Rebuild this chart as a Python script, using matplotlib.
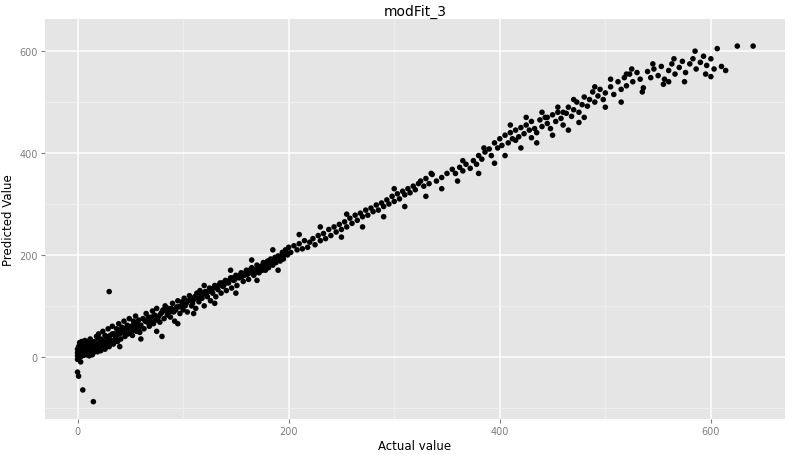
import numpy as np
import matplotlib.pyplot as plt

# (actual, predicted) pairs
low = [(0,2),(0,8),(0,15),(0,-5),(0,-30),(1,-38),(1,20),(2,5),(2,12),(3,25),(3,0),(4,8),(4,18),(5,-65),(5,10),(6,3),(6,22),(7,14),(8,6),(8,28),(9,18),(10,10),(10,30),(11,2),(12,20),(12,35),(13,12),(14,25),(15,-88),(15,8),(16,30),(17,18),(18,40),(19,10),(20,25),(20,45),(21,15),(22,35),(23,22),(24,50),(25,28),(26,15),(27,40),(28,30),(29,55),(30,128),(30,20),(31,42),(32,32),(33,60),(34,25),(35,45),(36,38),(37,55),(38,30),(39,65),(40,45),(41,35),(42,58),(43,48),(44,70),(45,40),(46,55),(47,62),(48,45),(49,75),(50,52),(51,60),(52,42),(53,70),(54,55),(55,80),(56,50),(57,65),(58,72),(59,48),(60,62),
       (1,10),(2,28),(3,-10),(4,30),(6,12),(7,32),(9,4),(11,22),(13,30),(14,4),(16,12),(18,22),(19,38),(21,30),(22,12),(24,32),(26,42),(27,20),(29,35),(31,28),(33,45),(35,30),(37,42),(39,50),(41,52),(44,55),(46,45),(48,60),(51,48),(53,62),(56,62),(58,55),(3,15),(5,22),(8,15),(10,20),(12,8),(15,18)]
mid = [(62,75),(63,55),(65,85),(66,68),(68,60),(70,78),(71,90),(72,65),(74,72),(75,95),(77,80),(78,68),(80,40),(80,88),(82,75),(83,100),(85,82),(86,95),(88,78),(90,105),(91,88),(92,70),(94,98),(95,110),(97,85),(98,100),(100,92),(101,115),(103,105),(104,88),(106,120),(108,100),(110,112),(112,95),(113,125),(115,108),(116,130),(118,115),(120,100),(121,128),(123,118),(125,135),(126,110),(128,125),(130,140),(131,118),(133,132),(135,145),(136,125),(138,138),(140,150),(141,130),(143,145),(145,155),(146,135),(148,150),(150,160),(151,140),(153,155),(155,165),(157,148),(158,160),(160,170),(162,152),(164,165),(165,175),(167,160),(169,172),(170,180),(172,165),(174,178),(176,185),(178,170),(180,188),(181,175),(183,192),(185,180),(187,195),(188,185),(190,198),(192,188),(194,205),(195,192),(197,210),(199,200),(200,215),
       (64,70),(67,78),(69,70),(73,82),(76,75),(79,85),(81,92),(84,90),(87,88),(89,95),(93,92),(96,98),(99,108),(102,100),(105,110),(107,112),(109,105),(111,118),(114,115),(117,122),(119,125),(122,122),(124,128),(127,132),(129,135),(132,138),(134,140),(137,145),(139,142),(142,148),(144,150),(147,155),(149,152),(152,158),(154,160),(156,158),(159,165),(161,162),(163,170),(166,168),(168,165),(171,175),(173,172),(175,170),(177,178),(179,182),(182,185),(184,188),(186,190),(189,192),(191,195),(193,198),(196,200),(198,205)]
high = [(202,205),(205,218),(208,210),(210,222),(213,212),(215,228),(218,215),(220,225),(223,232),(225,220),(228,238),(230,228),(233,242),(235,232),(238,250),(240,238),(243,255),(245,245),(248,260),(250,250),(253,265),(255,255),(258,272),(260,262),(263,278),(265,268),(268,282),(270,275),(273,288),(275,278),(278,292),(280,285),(283,298),(285,288),(288,302),(290,295),(293,308),(295,300),(298,315),(300,305),(303,320),(305,310),(308,325),(310,318),(313,330),(315,322),(318,335),(320,328),(323,340),(325,345),(328,335),(330,350),(333,340),(336,358),(340,345),
        (345,352),(350,360),(355,368),(358,360),(362,372),(365,365),(368,378),(372,370),(375,385),(378,378),(380,395),(383,388),(386,402),(390,408),(392,395),(395,420),(398,410),(400,428),(402,415),(405,435),(408,420),(410,440),(412,428),(415,445),(418,432),(420,450),(423,438),(425,455),(428,445),(430,462),(433,448),(435,440),(438,465),(440,452),(443,470),(445,458),(448,448),(450,475),(453,462),(455,480),(458,468),(460,455),(463,478),(465,490),(468,472),(470,485),(473,500),(475,480),(478,495),(480,510),(483,492),(485,505),(488,520),(490,500),(493,512),(495,525),(498,505),(500,518),
        (505,530),(508,515),(512,540),(515,525),(518,548),(520,532),(523,555),(526,540),(530,558),(533,545),(536,528),(540,560),(543,548),(546,565),(550,552),(553,570),(556,545),(560,562),(563,575),(566,555),(570,568),(573,580),(576,558),(580,575),(583,585),(586,565),(590,578),(593,590),(596,572),(600,585),(603,565),(606,605),(610,570),(614,562),(625,610),(640,610)]
# looser points off the main band
spread = [(40,20),(60,35),(75,50),(95,65),(110,85),(130,105),(150,125),(170,150),(190,170),(120,140),(145,170),(165,190),(185,210),(210,240),(230,255),(250,235),(255,280),(270,255),(290,275),(300,330),(310,295),(330,315),(335,360),(345,330),(360,345),(365,385),(380,360),(385,410),(395,380),(405,395),(410,455),(420,410),(425,470),(435,420),(440,480),(450,435),(455,490),(465,445),(470,505),(480,470),(490,530),(500,490),(505,545),(515,500),(525,565),(535,520),(545,575),(555,535),(565,585),(575,540),(585,600),(595,555),(600,550),(475,460),(445,470),(430,430),(415,425),(460,480),(520,555),(560,540)]

pts = np.array(low + mid + high + spread)
actual = pts[:, 0]
predicted = pts[:, 1]

fig = plt.figure(figsize=(8, 4.56), dpi=100)
ax = fig.add_axes([0.056, 0.079, 0.925, 0.877])
ax.set_facecolor("#e5e5e5")
ax.scatter(actual, predicted, s=16, c="black", edgecolors="none", zorder=3)

ax.set_xlim(-31, 670)
ax.set_ylim(-122, 663)
ax.set_xticks([0, 200, 400, 600])
ax.set_yticks([0, 200, 400, 600])
ax.set_xticks([100, 300, 500], minor=True)
ax.set_yticks([-100, 100, 300, 500], minor=True)
ax.grid(True, which="major", color="white", lw=1.1)
ax.grid(True, which="minor", color="#f2f2f2", lw=0.5)
ax.set_axisbelow(True)
for s in ax.spines.values():
    s.set_visible(False)
ax.tick_params(which="major", colors="#7f7f7f", labelsize=7, length=3, pad=2)
ax.tick_params(which="minor", length=0)
ax.set_xlabel("Actual value", fontsize=8.5, labelpad=2)
ax.set_ylabel("Predicted Value", fontsize=8.5, labelpad=3)
ax.set_title("modFit_3", fontsize=10, pad=3)

fig.savefig("out.png")
